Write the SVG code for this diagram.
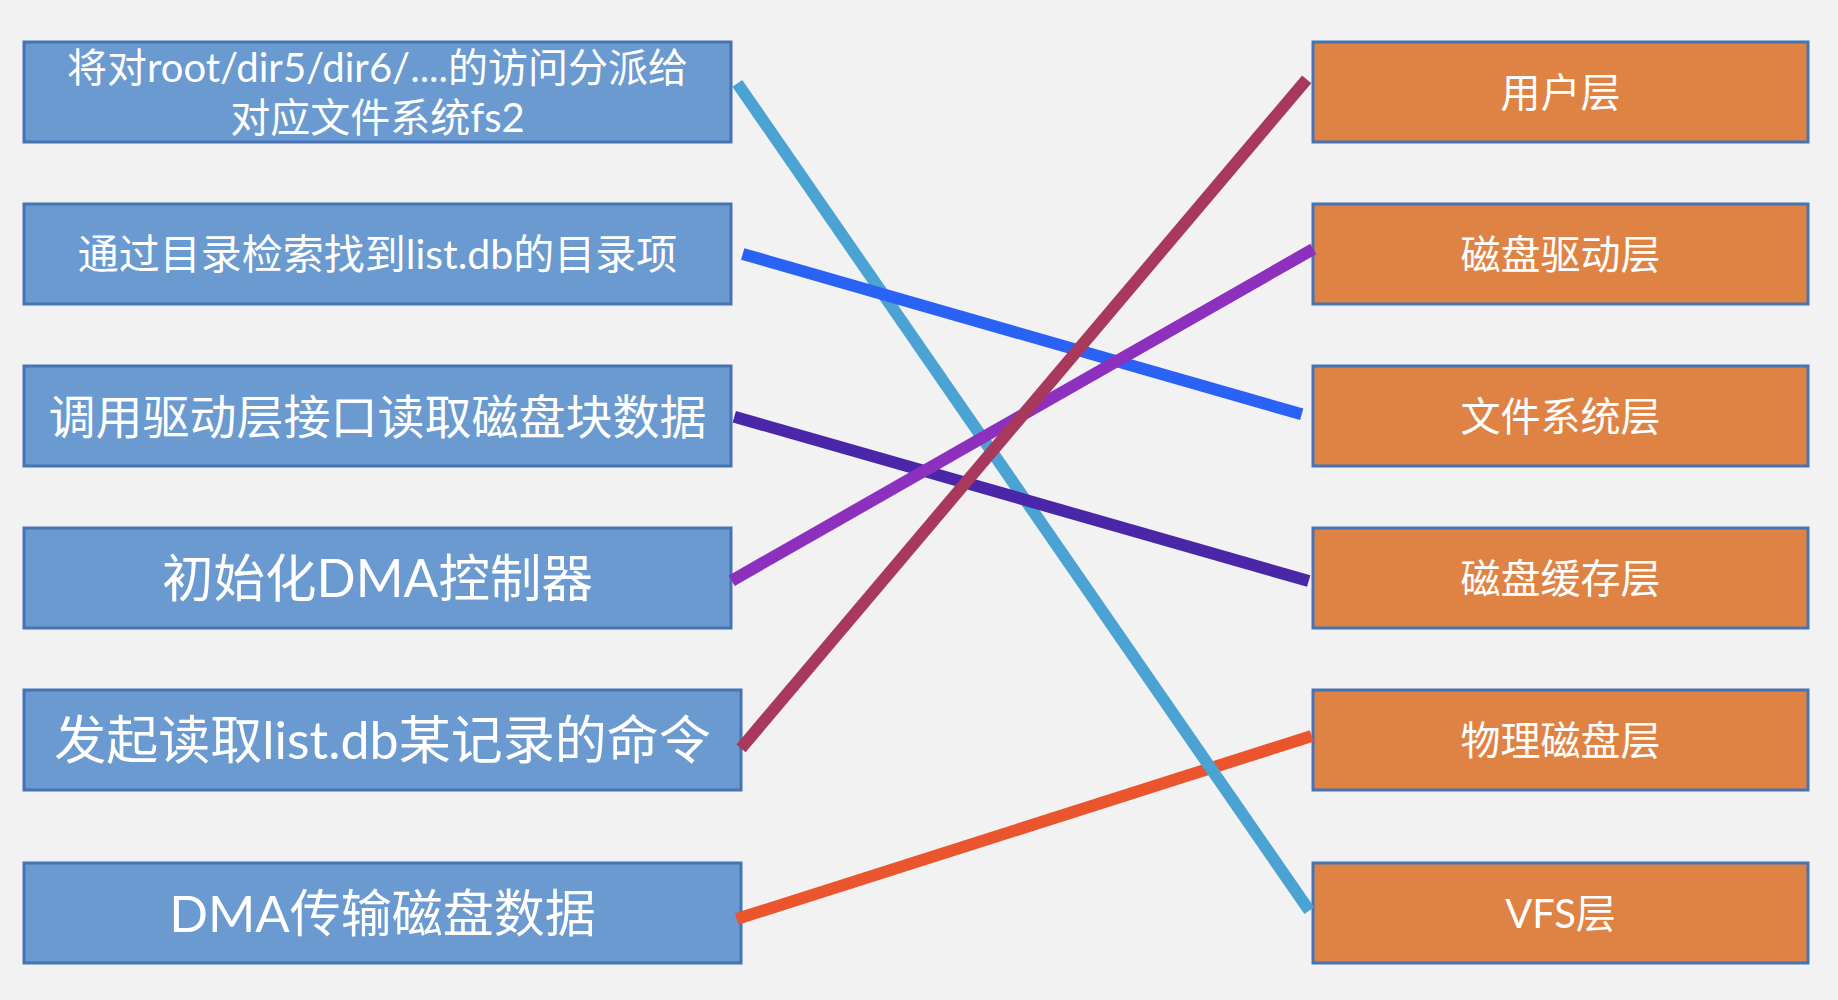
<svg xmlns="http://www.w3.org/2000/svg" width="1838" height="1000" viewBox="0 0 1838 1000">
<style>
.lb{fill:#6A9ACF;stroke:#4673B3;stroke-width:3}
.rb{fill:#DF8344;stroke:#4673B3;stroke-width:3}
text{fill:#FFFFFF;font-family:Lato,"Noto Sans CJK SC",sans-serif;text-anchor:middle}
.r{font-size:40px}
.c{fill:none;stroke-width:12;stroke-linecap:butt}
</style>
<rect x="0" y="0" width="1838" height="1000" fill="#F2F2F2"/>
<g id="left1"><rect class="lb" x="24" y="42" width="707" height="100"/>
<text x="377.5" y="81.5" font-size="40">将对root/dir5/dir6/....的访问分派给</text>
<text x="377.5" y="131.5" font-size="40">对应文件系统fs2</text></g>
<g id="left2"><rect class="lb" x="24" y="204" width="707" height="100"/>
<text x="377.5" y="268.5" font-size="41">通过目录检索找到list.db的目录项</text></g>
<g id="left3"><rect class="lb" x="24" y="366" width="707" height="100"/>
<text x="377.5" y="434" font-size="47">调用驱动层接口读取磁盘块数据</text></g>
<g id="left4"><rect class="lb" x="24" y="528" width="707" height="100"/>
<text x="377.5" y="597" font-size="51.5">初始化DMA控制器</text></g>
<g id="left5"><rect class="lb" x="24" y="690" width="717" height="100"/>
<text x="382.5" y="758.5" font-size="52">发起读取list.db某记录的命令</text></g>
<g id="left6"><rect class="lb" x="24" y="863" width="717" height="100"/>
<text x="382.5" y="932" font-size="51">DMA传输磁盘数据</text></g>
<g id="right1"><rect class="rb" x="1313" y="42" width="495" height="100"/>
<text class="r" x="1560.5" y="106.5">用户层</text></g>
<g id="right2"><rect class="rb" x="1313" y="204" width="495" height="100"/>
<text class="r" x="1560.5" y="268.5">磁盘驱动层</text></g>
<g id="right3"><rect class="rb" x="1313" y="366" width="495" height="100"/>
<text class="r" x="1560.5" y="430.5">文件系统层</text></g>
<g id="right4"><rect class="rb" x="1313" y="528" width="495" height="100"/>
<text class="r" x="1560.5" y="592.5">磁盘缓存层</text></g>
<g id="right5"><rect class="rb" x="1313" y="690" width="495" height="100"/>
<text class="r" x="1560.5" y="754.5">物理磁盘层</text></g>
<g id="right6"><rect class="rb" x="1313" y="863" width="495" height="100"/>
<text class="r" x="1560.5" y="927.5">VFS层</text></g>
<g id="connectors">
<line class="c" x1="736.7" y1="919" x2="1311.7" y2="736" stroke="#EA552E"/>
<line class="c" x1="737.3" y1="83.3" x2="1309.3" y2="910.7" stroke="#4BA3D4"/>
<line class="c" x1="742.7" y1="254" x2="1301.7" y2="414.3" stroke="#2A62F5"/>
<line class="c" x1="734.3" y1="416.7" x2="1308.7" y2="581" stroke="#4A26A8"/>
<line class="c" x1="731.7" y1="580.7" x2="1313.3" y2="249" stroke="#8E30BE"/>
<line class="c" x1="741" y1="748.3" x2="1306.7" y2="79.3" stroke="#A8395C"/>
</g>
</svg>
